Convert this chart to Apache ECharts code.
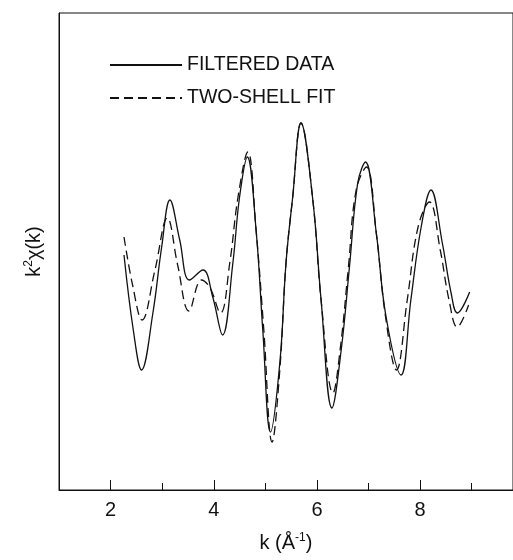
<!DOCTYPE html>
<html>
<head>
<meta charset="utf-8">
<script src="https://cdn.jsdelivr.net/npm/echarts@6/dist/echarts.min.js"></script>
<style>
  html, body { margin: 0; padding: 0; background: #fff; }
  #chart { width: 513px; height: 560px; }
</style>
</head>
<body>
<div id="chart"></div>
<script>
// k values (Å^-1) and k^2 chi(k) (arbitrary units)
const filteredK = [2.26, 2.44, 2.60, 2.82, 2.99, 3.15, 3.34, 3.53, 3.79, 3.98, 4.17, 4.37, 4.50, 4.65,
  4.82, 4.95, 5.10, 5.28, 5.40, 5.53, 5.69, 5.92, 6.08, 6.29, 6.47, 6.63, 6.79, 6.94, 7.15, 7.34,
  7.63, 7.82, 8.02, 8.21, 8.43, 8.60, 8.72, 8.96]
const filteredY = [-0.05, -0.80, -1.20, -0.63, 0.03, 0.50, 0.10, -0.30, -0.20, -0.47, -0.85, -0.13, 0.53, 0.93,
  0.20, -0.80, -1.82, -1.13, -0.13, 0.53, 1.27, 0.50, -0.50, -1.58, -1.00, -0.17, 0.67, 0.88, 0.17, -0.67,
  -1.25, -0.50, 0.23, 0.60, 0.07, -0.43, -0.63, -0.42]

const fitK = [2.26, 2.43, 2.61, 2.86, 3.10, 3.30, 3.52, 3.76, 3.92, 4.13, 4.31, 4.47, 4.66,
  4.82, 4.97, 5.13, 5.28, 5.40, 5.53, 5.69, 5.92, 6.08, 6.31, 6.46, 6.61, 6.76, 6.96, 7.15, 7.33,
  7.54, 7.75, 7.96, 8.18, 8.39, 8.56, 8.72, 8.94]
const fitY = [0.13, -0.36, -0.70, -0.20, 0.32, -0.15, -0.61, -0.30, -0.37, -0.63, -0.13, 0.53, 0.98,
  0.20, -0.80, -1.92, -1.20, -0.13, 0.53, 1.27, 0.50, -0.50, -1.43, -0.95, -0.17, 0.60, 0.83, 0.17, -0.67,
  -1.20, -0.50, 0.23, 0.48, 0.00, -0.50, -0.77, -0.55]

const majorTicks = [2, 4, 6, 8]
const minorTicks = [3, 5, 7, 9]

const pairs = (xs, ys) => xs.map((x, i) => [x, ys[i]])

const chart = echarts.init(document.getElementById('chart'))
const font = 'Liberation Sans, Arial, sans-serif'
const black = '#111'

const gridBox = { left: 59, top: 13, right: -2, bottom: 70 }

chart.setOption({
  animation: false,
  backgroundColor: '#fff',
  textStyle: { fontFamily: font, color: black },
  grid: [
    Object.assign({ show: true, borderColor: black, borderWidth: 1 }, gridBox),
    Object.assign({}, gridBox)
  ],
  legend: {
    orient: 'vertical',
    left: 104,
    top: 50,
    itemWidth: 72,
    itemHeight: 14,
    itemGap: 13,
    selectedMode: false,
    itemStyle: { opacity: 0 },
    textStyle: { fontSize: 19.5, color: black, fontFamily: font },
    data: ['FILTERED DATA', 'TWO-SHELL FIT']
  },
  xAxis: [
    {
      type: 'value',
      gridIndex: 0,
      min: 1,
      max: 9.8,
      splitLine: { show: false },
      axisLine: { onZero: false, lineStyle: { color: black, width: 1 } },
      axisTick: { inside: true, length: 10, customValues: majorTicks, lineStyle: { color: black } },
      axisLabel: { customValues: majorTicks, fontSize: 20, color: black, margin: 10 },
      name: '{t|k (Å}{s|-1}{t|)}',
      nameLocation: 'middle',
      nameGap: 42,
      nameTextStyle: {
        rich: {
          t: { fontSize: 20, color: black, fontFamily: font },
          s: { fontSize: 12, color: black, fontFamily: font, verticalAlign: 'top', padding: [0, 0, 10, 0] }
        }
      }
    },
    {
      type: 'value',
      gridIndex: 1,
      min: 1,
      max: 9.8,
      splitLine: { show: false },
      axisLine: { show: false, onZero: false },
      axisTick: { inside: true, length: 7, customValues: minorTicks, lineStyle: { color: black } },
      axisLabel: { show: false }
    }
  ],
  yAxis: [
    {
      type: 'value',
      gridIndex: 0,
      min: -2.4,
      max: 2.37,
      splitLine: { show: false },
      axisLine: { show: true, onZero: false, lineStyle: { color: black } },
      axisTick: { show: false },
      axisLabel: { show: false },
      name: '{t|k}{s|2}{t|χ(k)}',
      nameLocation: 'middle',
      nameGap: 14,
      nameTextStyle: {
        rich: {
          t: { fontSize: 20, color: black, fontFamily: font },
          s: { fontSize: 12, color: black, fontFamily: font, verticalAlign: 'top', padding: [0, 0, 10, 0] }
        }
      }
    },
    {
      type: 'value',
      gridIndex: 1,
      min: -2.4,
      max: 2.37,
      show: false
    }
  ],
  series: [
    {
      name: 'FILTERED DATA',
      type: 'line',
      xAxisIndex: 0,
      yAxisIndex: 0,
      smooth: 0.4,
      symbol: 'none',
      lineStyle: { color: black, width: 1.3 },
      itemStyle: { color: black },
      data: pairs(filteredK, filteredY)
    },
    {
      name: 'TWO-SHELL FIT',
      type: 'line',
      xAxisIndex: 0,
      yAxisIndex: 0,
      smooth: 0.4,
      symbol: 'none',
      lineStyle: { color: black, width: 1.3, type: [9, 5] },
      itemStyle: { color: black },
      data: pairs(fitK, fitY)
    }
  ]
})
</script>
</body>
</html>
